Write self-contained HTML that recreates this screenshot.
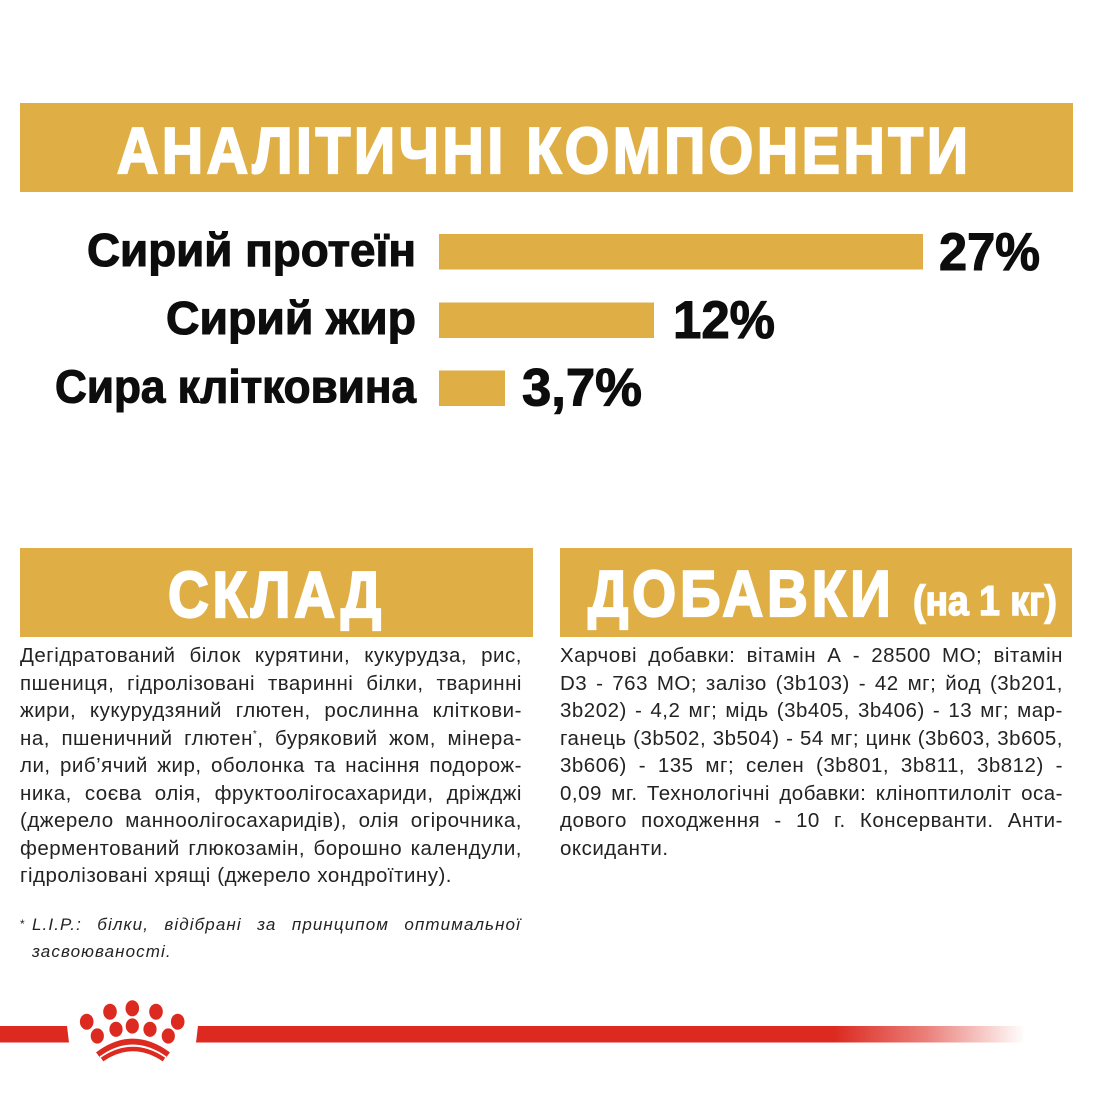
<!DOCTYPE html>
<html>
<head>
<meta charset="utf-8">
<style>
  html,body{margin:0;padding:0;background:#fff;}
  body{width:1093px;height:1093px;position:relative;overflow:hidden;}
  svg{position:absolute;left:0;top:0;}
  .col{position:absolute;font-family:"Liberation Sans","Noto Sans CJK SC",sans-serif;font-size:20.5px;line-height:27.5px;color:#232323;letter-spacing:0.5px;}
  .l{display:flex;justify-content:space-between;white-space:nowrap;height:27.5px;}
  .l span{display:block;}
  .fn{position:absolute;font-family:"Liberation Sans",sans-serif;font-style:italic;font-size:17px;line-height:20px;color:#232323;letter-spacing:1.1px;display:flex;justify-content:space-between;white-space:nowrap;}
  .star{position:absolute;left:20px;top:917px;font-family:"Liberation Sans",sans-serif;font-size:12px;color:#232323;}
</style>
</head>
<body>
<svg width="1093" height="1093" viewBox="0 0 1093 1093" xmlns="http://www.w3.org/2000/svg">
  <defs>
    <linearGradient id="fade" gradientUnits="userSpaceOnUse" x1="196" y1="0" x2="1025" y2="0">
      <stop offset="0" stop-color="#DC2A20" stop-opacity="1"/>
      <stop offset="0.77" stop-color="#DC2A20" stop-opacity="1"/>
      <stop offset="0.88" stop-color="#DC2A20" stop-opacity="0.6"/>
      <stop offset="1" stop-color="#DC2A20" stop-opacity="0"/>
    </linearGradient>
  </defs>

  <!-- Top banner -->
  <rect x="20" y="103" width="1053" height="89" fill="#DFAE44"/>
  <g transform="translate(117,0) scale(0.88,1)">
    <text x="0" y="173" font-family="Liberation Sans, sans-serif" font-weight="bold" font-size="65" fill="#fff" stroke="#fff" stroke-width="2.2" textLength="967" lengthAdjust="spacing">АНАЛІТИЧНІ КОМПОНЕНТИ</text>
  </g>

  <!-- Bars -->
  <rect x="439" y="234" width="484" height="35.5" fill="#DFAE44"/>
  <rect x="439" y="302.5" width="215" height="35.5" fill="#DFAE44"/>
  <rect x="439" y="370.5" width="66" height="35.5" fill="#DFAE44"/>

  <!-- Labels -->
  <g font-family="Liberation Sans, sans-serif" font-weight="bold" fill="#0d0d0d" stroke="#0d0d0d" stroke-width="1.1">
    <text x="87" y="266" font-size="46" textLength="329" lengthAdjust="spacingAndGlyphs">Сирий протеїн</text>
    <text x="166" y="334" font-size="46" textLength="250" lengthAdjust="spacingAndGlyphs">Сирий жир</text>
    <text x="55" y="402.5" font-size="46" textLength="361" lengthAdjust="spacingAndGlyphs">Сира клітковина</text>
    <text x="939" y="270" font-size="52.5" textLength="101" lengthAdjust="spacingAndGlyphs">27%</text>
    <text x="673" y="338" font-size="52.5" textLength="102" lengthAdjust="spacingAndGlyphs">12%</text>
    <text x="522" y="405.5" font-size="52.5" textLength="120" lengthAdjust="spacingAndGlyphs">3,7%</text>
  </g>

  <!-- Section banners -->
  <rect x="20" y="548" width="513" height="89" fill="#DFAE44"/>
  <g transform="translate(168,0) scale(0.87,1)">
    <text x="0" y="617" font-family="Liberation Sans, sans-serif" font-weight="bold" font-size="65" fill="#fff" stroke="#fff" stroke-width="2.2" textLength="245" lengthAdjust="spacing">СКЛАД</text>
  </g>

  <rect x="560" y="548" width="512" height="89" fill="#DFAE44"/>
  <g transform="translate(588,0) scale(0.87,1)">
    <text x="0" y="616" font-family="Liberation Sans, sans-serif" font-weight="bold" font-size="65" fill="#fff" stroke="#fff" stroke-width="2.2" textLength="348" lengthAdjust="spacing">ДОБАВКИ</text>
  </g>
  <g transform="translate(913,0) scale(0.9,1)">
    <text x="0" y="615" font-family="Liberation Sans, sans-serif" font-weight="bold" font-size="42" fill="#fff" stroke="#fff" stroke-width="1.5" textLength="160" lengthAdjust="spacingAndGlyphs">(на 1 кг)</text>
  </g>

  <!-- Red line -->
  <polygon points="0,1026 67,1026 69,1042.5 0,1042.5" fill="#DC2A20"/>
  <polygon points="198,1026 1025,1026 1025,1042.5 196,1042.5" fill="url(#fade)"/>

  <!-- Crown / paw logo -->
  <g fill="#DC2A20">
    <ellipse cx="86.7" cy="1021.7" rx="6.8" ry="8"/>
    <ellipse cx="110" cy="1011.7" rx="6.8" ry="8"/>
    <ellipse cx="132.3" cy="1008.3" rx="6.8" ry="8"/>
    <ellipse cx="156" cy="1011.7" rx="6.8" ry="8"/>
    <ellipse cx="177.7" cy="1021.7" rx="6.8" ry="8"/>
    <ellipse cx="97.3" cy="1036" rx="6.6" ry="7.6"/>
    <ellipse cx="116" cy="1029.3" rx="6.6" ry="7.6"/>
    <ellipse cx="132.3" cy="1026" rx="6.6" ry="7.6"/>
    <ellipse cx="150" cy="1029.3" rx="6.6" ry="7.6"/>
    <ellipse cx="168.3" cy="1036" rx="6.6" ry="7.6"/>
  </g>
  <path d="M98 1055 Q132.5 1029 168 1055" stroke="#DC2A20" stroke-width="6.5" fill="none"/>
  <path d="M102 1059.5 Q132.5 1038.5 164 1059.5" stroke="#DC2A20" stroke-width="4.5" fill="none"/>
  <path d="M100 1057.2 Q132.5 1033.5 166 1057.2" stroke="#fff" stroke-width="1.6" fill="none"/>
</svg>

<!-- Left column body text -->
<div class="col" style="left:20px;top:642px;width:502px;">
  <div class="l"><span>Дегідратований</span><span>білок</span><span>курятини,</span><span>кукурудза,</span><span>рис,</span></div>
  <div class="l"><span>пшениця,</span><span>гідролізовані</span><span>тваринні</span><span>білки,</span><span>тваринні</span></div>
  <div class="l"><span>жири,</span><span>кукурудзяний</span><span>глютен,</span><span>рослинна</span><span>кліткови-</span></div>
  <div class="l"><span>на,</span><span>пшеничний</span><span>глютен<sup style="font-size:10px;line-height:0">*</sup>,</span><span>буряковий</span><span>жом,</span><span>мінера-</span></div>
  <div class="l"><span>ли,</span><span>риб’ячий</span><span>жир,</span><span>оболонка</span><span>та</span><span>насіння</span><span>подорож-</span></div>
  <div class="l"><span>ника,</span><span>соєва</span><span>олія,</span><span>фруктоолігосахариди,</span><span>дріжджі</span></div>
  <div class="l"><span>(джерело</span><span>манноолігосахаридів),</span><span>олія</span><span>огірочника,</span></div>
  <div class="l"><span>ферментований</span><span>глюкозамін,</span><span>борошно</span><span>календули,</span></div>
  <div class="l" style="width:432px;"><span>гідролізовані</span><span>хрящі</span><span>(джерело</span><span>хондроїтину).</span></div>
</div>

<!-- Right column body text -->
<div class="col" style="left:560px;top:642px;width:503px;">
  <div class="l"><span>Харчові</span><span>добавки:</span><span>вітамін</span><span>А</span><span>-</span><span>28500</span><span>МО;</span><span>вітамін</span></div>
  <div class="l"><span>D3</span><span>-</span><span>763</span><span>МО;</span><span>залізо</span><span>(3b103)</span><span>-</span><span>42</span><span>мг;</span><span>йод</span><span>(3b201,</span></div>
  <div class="l"><span>3b202)</span><span>-</span><span>4,2</span><span>мг;</span><span>мідь</span><span>(3b405,</span><span>3b406)</span><span>-</span><span>13</span><span>мг;</span><span>мар-</span></div>
  <div class="l"><span>ганець</span><span>(3b502,</span><span>3b504)</span><span>-</span><span>54</span><span>мг;</span><span>цинк</span><span>(3b603,</span><span>3b605,</span></div>
  <div class="l"><span>3b606)</span><span>-</span><span>135</span><span>мг;</span><span>селен</span><span>(3b801,</span><span>3b811,</span><span>3b812)</span><span>-</span></div>
  <div class="l"><span>0,09</span><span>мг.</span><span>Технологічні</span><span>добавки:</span><span>кліноптилоліт</span><span>оса-</span></div>
  <div class="l"><span>дового</span><span>походження</span><span>-</span><span>10</span><span>г.</span><span>Консерванти.</span><span>Анти-</span></div>
  <div class="l" style="width:112px;"><span>оксиданти.</span></div>
</div>

<!-- Footnote -->
<div class="star">*</div>
<div class="fn" style="left:32px;top:915px;width:489px;"><span>L.I.P.:</span><span>білки,</span><span>відібрані</span><span>за</span><span>принципом</span><span>оптимальної</span></div>
<div class="fn" style="left:32px;top:942px;width:142px;"><span>засвоюваності.</span></div>
</body>
</html>
